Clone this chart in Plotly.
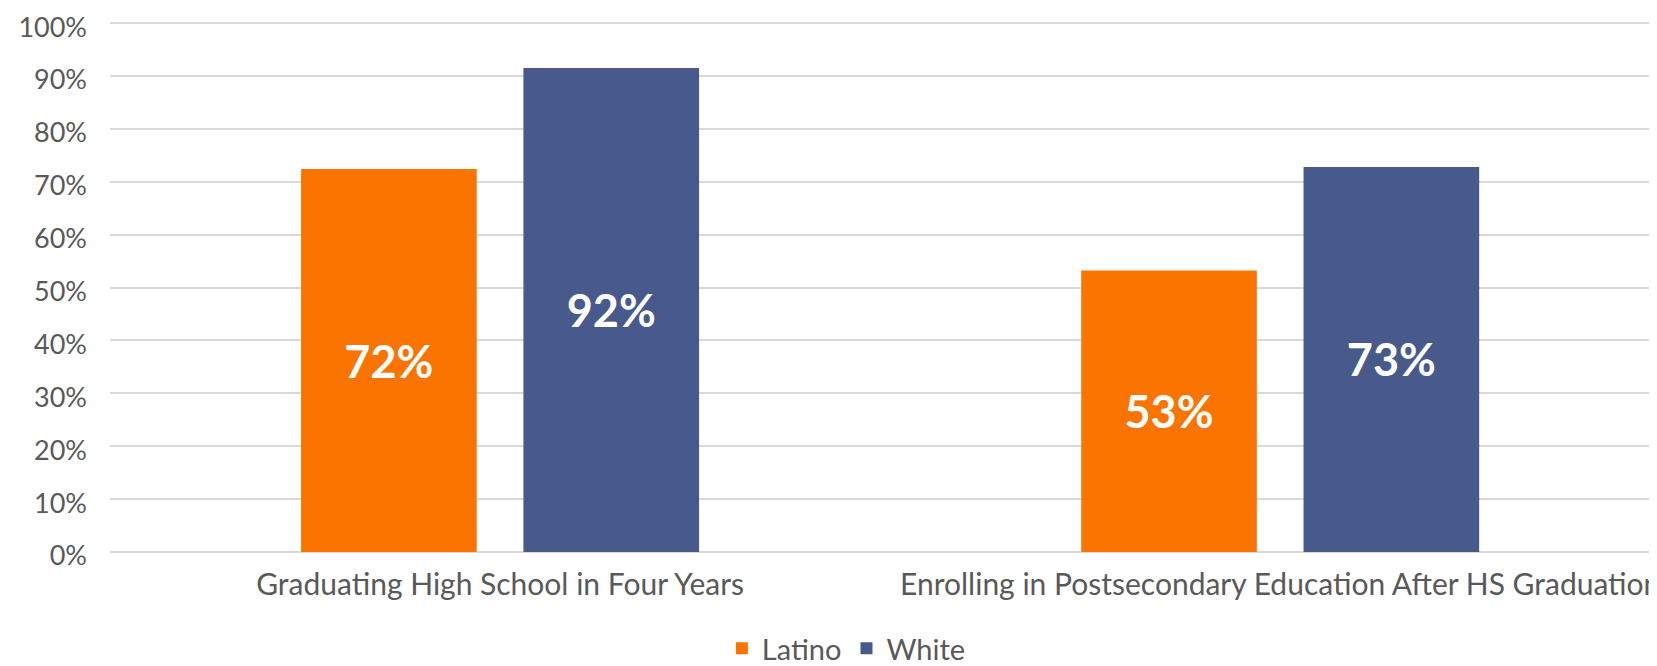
import plotly.graph_objects as go

categories = ["Graduating High School in Four Years",
              "Enrolling in Postsecondary Education After HS Graduation"]
latino = [0.724, 0.532]
white = [0.915, 0.728]
latino_labels = ["72%", "53%"]
white_labels = ["92%", "73%"]

FONT = "Lato, 'Open Sans', sans-serif"
GREY = "#595959"

fig = go.Figure()
fig.add_trace(go.Bar(x=categories, y=latino, name="Latino", marker_color="#FC7400",
                     text=latino_labels, textposition="inside", insidetextanchor="middle",
                     textangle=0, constraintext="none",
                     textfont=dict(family=FONT, size=45, color="white", weight="bold")))
fig.add_trace(go.Bar(x=categories, y=white, name="White", marker_color="#475A8B",
                     text=white_labels, textposition="inside", insidetextanchor="middle",
                     textangle=0, constraintext="none",
                     textfont=dict(family=FONT, size=45, color="white", weight="bold")))

# page body has an 8px margin, so margins are shifted to compensate
fig.update_layout(
    width=1657, height=666, template="none",
    paper_bgcolor="white", plot_bgcolor="white",
    barmode="group", bargap=0.43, bargroupgap=0.21,
    margin=dict(l=102, r=8, t=14, b=122, autoexpand=False),
    font=dict(family=FONT, color=GREY),
    showlegend=True,
    legend=dict(orientation="h", x=0.476, xanchor="center", y=-0.005, yref="container",
                yanchor="bottom", font=dict(size=29, color=GREY), itemwidth=30,
                traceorder="normal"),
    hovermode=False,
)
fig.update_xaxes(range=[-0.5, 1.483], showgrid=False, showline=False, zeroline=False,
                 ticks="", tickfont=dict(size=30, color=GREY), automargin=False,
                 ticklabelstandoff=12)
fig.update_yaxes(range=[0, 1.002], dtick=0.1, tickformat=".0%", showgrid=True,
                 gridcolor="#D9D9D9", gridwidth=2, zeroline=True, zerolinecolor="#D9D9D9",
                 zerolinewidth=2, showline=False, ticks="", automargin=False,
                 ticklabeloverflow="allow", ticklabelshift=4,
                 tickfont=dict(size=27, color=GREY), ticklabelstandoff=22)

fig.write_html("out.html")
